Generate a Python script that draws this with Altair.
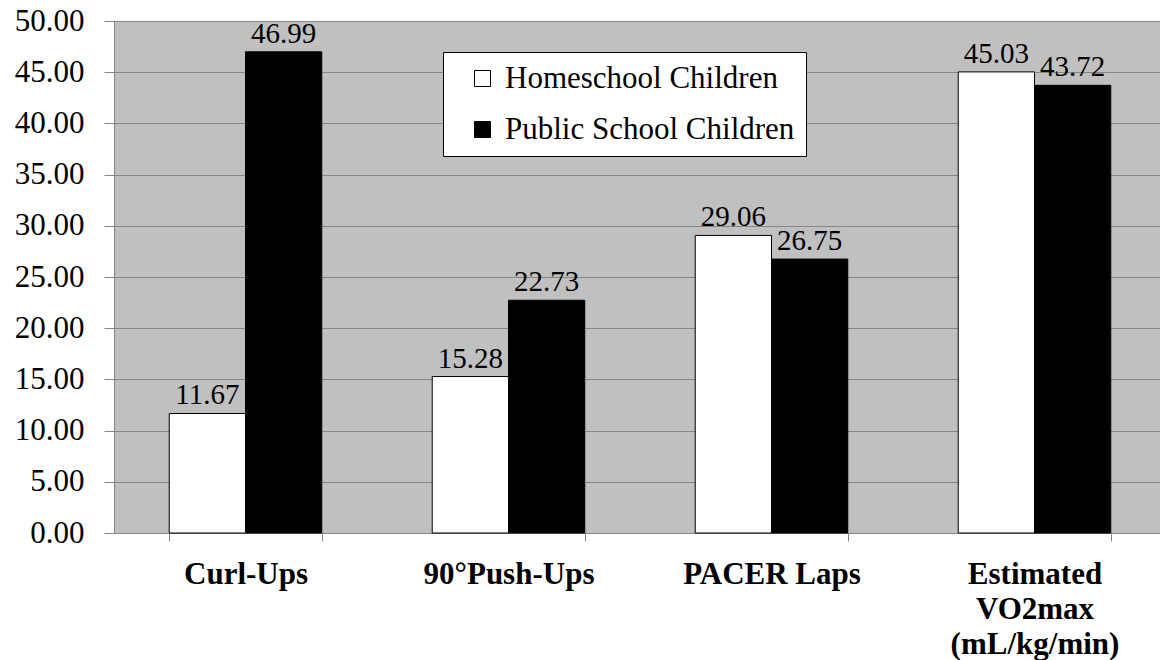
import altair as alt
import pandas as pd

categories = ["Curl-Ups", "90°Push-Ups", "PACER Laps", "Estimated VO2max (mL/kg/min)"]
category_lines = {
    "Estimated VO2max (mL/kg/min)": ["Estimated", "VO2max", "(mL/kg/min)"],
}
groups = ["Homeschool Children", "Public School Children"]
homeschool = [11.67, 15.28, 29.06, 45.03]
public = [46.99, 22.73, 26.75, 43.72]
y_ticks = [0, 5, 10, 15, 20, 25, 30, 35, 40, 45, 50]

rows = []
for c, h, p in zip(categories, homeschool, public):
    rows.append({"cat": c, "group": groups[0], "value": h})
    rows.append({"cat": c, "group": groups[1], "value": p})
df = pd.DataFrame(rows)

FONT = "Liberation Serif"
GRAY = "#868686"

label_expr = "datum.label"
for k, lines in category_lines.items():
    arr = "[" + ", ".join("'" + s + "'" for s in lines) + "]"
    label_expr = f"datum.label == '{k}' ? {arr} : ({label_expr})"

x_enc = alt.X(
    "cat:N",
    sort=categories,
    scale=alt.Scale(paddingInner=0.42, paddingOuter=0.21, range=[0, 1052]),
    axis=alt.Axis(
        title=None, labelAngle=0, labelFont=FONT, labelFontWeight="bold",
        labelFontSize=31, labelColor="black", tickBand="extent", tickSize=8,
        tickColor=GRAY, domainColor=GRAY, labelPadding=18, labelLineHeight=35,
        labelExpr=label_expr, grid=False, labelLimit=400,
    ),
)
y_enc = alt.Y(
    "value:Q",
    scale=alt.Scale(domain=[0, 50]),
    axis=alt.Axis(
        values=y_ticks, format=".2f", title=None, labelFont=FONT,
        labelFontSize=31, labelColor="black", tickSize=10, tickColor=GRAY,
        domainColor=GRAY, gridColor=GRAY, labelPadding=20,
    ),
)
xoff = alt.XOffset("group:N", sort=groups, scale=alt.Scale(paddingInner=0))

bars = alt.Chart(df).mark_bar(stroke="black", strokeWidth=1).encode(
    x=x_enc,
    y=y_enc,
    xOffset=xoff,
    color=alt.Color(
        "group:N",
        sort=groups,
        scale=alt.Scale(domain=groups, range=["white", "black"]),
        legend=alt.Legend(
            orient="none", legendX=329, legendY=31, title=None,
            fillColor="white", strokeColor="black", padding=11,
            symbolType="square", symbolSize=256, symbolStrokeColor="black",
            symbolStrokeWidth=1, labelFont=FONT, labelFontSize=31,
            labelColor="black", labelOffset=7, rowPadding=19, symbolOffset=13,
            labelLimit=400,
        ),
    ),
)

labels = alt.Chart(df).mark_text(
    font=FONT, fontSize=29, color="black", dy=-9, baseline="alphabetic", align="center"
).encode(
    x=x_enc,
    y=y_enc,
    xOffset=xoff,
    text=alt.Text("value:Q", format=".2f"),
)

chart = alt.layer(bars, labels).properties(
    width=1046,
    height=512,
    autosize=alt.AutoSizeParams(type="none"),
    padding={"left": 114, "top": 21, "right": 0, "bottom": 127},
    background="white",
).configure_view(fill="#C0C0C0", stroke="black", strokeWidth=1)

chart.save("out.html", embed_options={"renderer": "svg", "actions": False})
